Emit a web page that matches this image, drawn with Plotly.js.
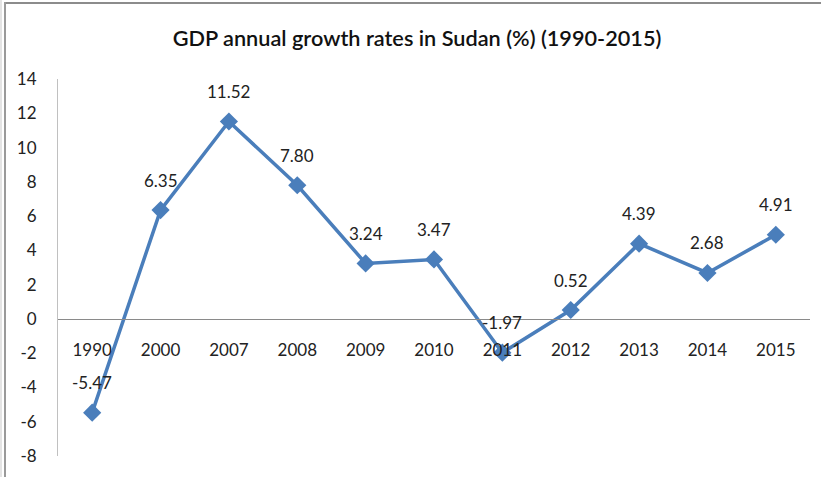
<!DOCTYPE html>
<html>
<head>
<meta charset="utf-8">
<script src="https://cdn.plot.ly/plotly-3.0.1.min.js"></script>
<style>
html,body{margin:0;padding:0;background:#fff;}
#frame{position:absolute;left:0;top:0;width:821px;height:477px;overflow:hidden;}
#chart{position:absolute;left:0;top:0;width:821px;height:477px;}
#bt{position:absolute;left:5px;top:2px;width:816px;height:2px;background:#8c8c8c;}
#bl{position:absolute;left:4px;top:2px;width:2px;height:475px;background:#9a9a9a;}
#bl2{position:absolute;left:0px;top:0px;width:2px;height:477px;background:#e4e4e4;}
</style>
</head>
<body>
<div id="frame">
<div id="chart"></div>
<div id="bt"></div><div id="bl"></div><div id="bl2"></div>
</div>
<script>
const years = ["1990","2000","2007","2008","2009","2010","2011","2012","2013","2014","2015"];
const growth = [-5.47, 6.35, 11.52, 7.80, 3.24, 3.47, -1.97, 0.52, 4.39, 2.68, 4.91];
const yTicks = [-8,-6,-4,-2,0,2,4,6,8,10,12,14];

const yMin = -8, yMax = 14;
const font = "Lato, 'Open Sans', sans-serif";

const trace = {
  x: years, y: growth, type: "scatter", mode: "lines+markers",
  line: {color: "#4A7EBB", width: 3.5},
  marker: {symbol: "diamond", size: 14, color: "#4A7EBB"},
  cliponaxis: false, hoverinfo: "skip"
};

const annotations = years.map((yr, i) => ({
  x: i, y: growth[i], xref: "x", yref: "y",
  text: growth[i].toFixed(2), showarrow: false,
  yshift: 30, font: {family: font, size: 17, color: "#222"}
}));

const layout = {
  width: 821, height: 477,
  margin: {l: 58, r: 11, t: 79, b: 21},
  paper_bgcolor: "rgba(0,0,0,0)", plot_bgcolor: "rgba(0,0,0,0)",
  showlegend: false,
  title: {text: "GDP annual growth rates in Sudan (%) (1990-2015)",
          font: {family: font, size: 21.7, color: "#111", weight: 600},
          x: 0.508, xanchor: "center", y: 0.92, yanchor: "middle"},
  xaxis: {type: "category", anchor: "free", position: (0 - yMin) / (yMax - yMin),
          showline: true, linecolor: "#8a8a8a", linewidth: 1,
          showgrid: false, zeroline: false, ticks: "",
          ticklabelstandoff: 16,
          tickfont: {family: font, size: 17, color: "#222"},
          range: [-0.5, years.length - 0.5], fixedrange: true},
  yaxis: {range: [yMin, yMax], tickvals: yTicks, ticktext: yTicks.map(String),
          showline: true, linecolor: "#c0c0c0", linewidth: 1,
          showgrid: false, zeroline: false, ticks: "",
          ticklabelstandoff: 17,
          tickfont: {family: font, size: 17, color: "#222"}, fixedrange: true},
  annotations: annotations
};

Plotly.newPlot("chart", [trace], layout, {displayModeBar: false, staticPlot: true});
</script>
</body>
</html>
